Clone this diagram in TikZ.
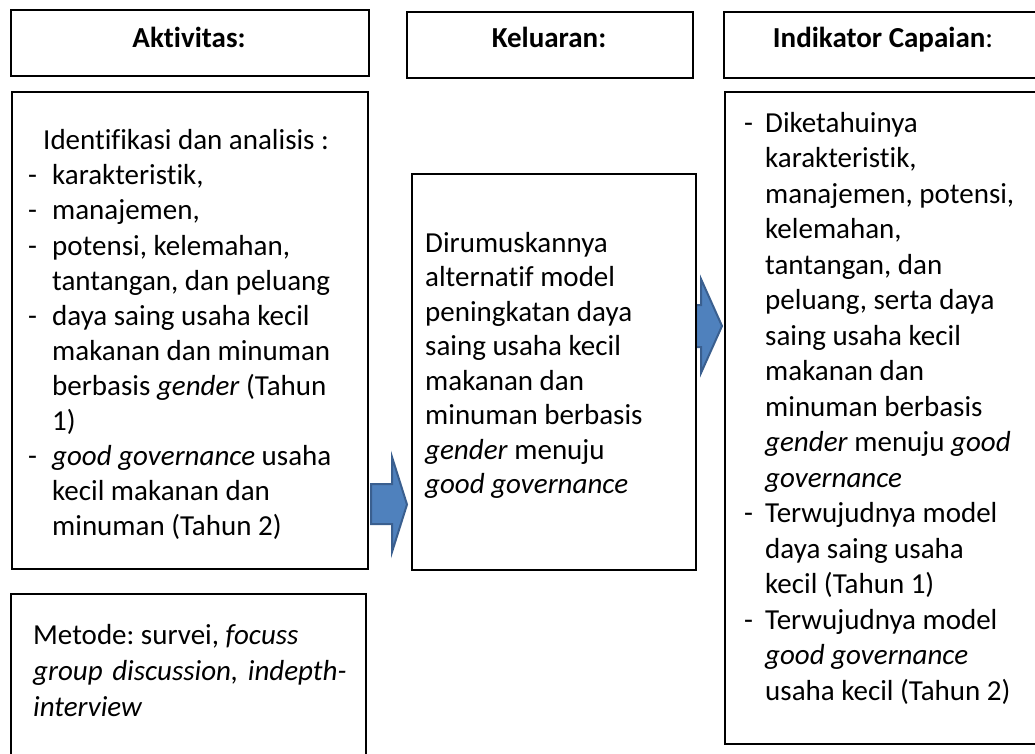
\documentclass[tikz,border=0pt]{standalone}
\usepackage{fontspec}
\setmainfont{Carlito}[Ligatures=NoCommon]
\frenchspacing
\definecolor{arrfill}{HTML}{4F81BD}
\definecolor{arrdraw}{HTML}{3A5F8F}
\newcommand{\dashA}[1]{\makebox[#1][l]{-}}
\newcommand{\contA}[1]{\hspace*{#1}}
\tikzset{
  box/.style={draw=black, line width=2pt, inner sep=0pt, anchor=north west},
  body/.style={inner sep=0pt, anchor=north west, align=left, font=\fontsize{29}{35.1}\selectfont\frenchspacing},
  head/.style={inner sep=0pt, anchor=base, font=\fontsize{29}{34}\selectfont\bfseries},
  blockarrow/.style={fill=arrfill, draw=arrdraw, line width=2pt, line join=miter}
}
\begin{document}
\begin{tikzpicture}[x=1pt,y=-1pt]
\useasboundingbox (0,0) rectangle (1035,754);
% block arrows
\draw[blockarrow] (371,484) -- (392,484) -- (392,457) -- (407,504.5) -- (392,552) -- (392,524) -- (371,524) -- cycle;
\draw[blockarrow] (696,305) -- (701,305) -- (701,279) -- (722,326) -- (701,373) -- (701,347) -- (696,347) -- cycle;
% header boxes
\node[box, minimum width=358pt, minimum height=66pt] (h1) at (10,9) {};
\node[box, minimum width=286pt, minimum height=66pt] (h2) at (406,11) {};
\node[box, minimum width=340pt, minimum height=66pt] (h3) at (723,11) {};
\node[head] (t1) at (189,48) {Aktivitas:};
\node[head] (t2) at (549,48) {Keluaran:};
\node[head] (t3) at (883,48) {Indikator Capaian\textmd{:}};
% content boxes
\node[box, minimum width=356pt, minimum height=477pt] (act) at (11,91) {};
\node[box, minimum width=355pt, minimum height=180pt] (met) at (10,593) {};
\node[box, minimum width=284pt, minimum height=396pt] (out) at (411,173) {};
\node[box, minimum width=340pt, minimum height=652pt] (ind) at (724,91) {};
% texts
\node[body] (actt) at (28,125) {\strut\contA{15pt}Identifikasi dan analisis :\\
\dashA{24pt}karakteristik,\\
\dashA{24pt}manajemen,\\
\dashA{24pt}potensi, kelemahan,\\
\contA{24pt}tantangan, dan peluang\\
\dashA{24pt}daya saing usaha kecil\\
\contA{24pt}makanan dan minuman\\
\contA{24pt}berbasis \textit{gender} (Tahun\\
\contA{24pt}1)\\
\dashA{24pt}\textit{good governance} usaha\\
\contA{24pt}kecil makanan dan\\
\contA{24pt}minuman (Tahun 2)};
\node[body, font=\fontsize{29}{36}\selectfont\frenchspacing] (mett) at (33,619) {\strut Metode: survei, \textit{focuss}\\
\textit{group\hspace{3pt} discussion,\hspace{3pt} indepth-}\\
\textit{interview}};
\node[body, font=\fontsize{29}{34.5}\selectfont\frenchspacing] (outt) at (425,228) {\strut Dirumuskannya\\
alternatif model\\
peningkatan daya\\
saing usaha kecil\\
makanan dan\\
minuman berbasis\\
\textit{gender} menuju\\
\textit{good governance}};
\node[body, font=\fontsize{29}{35.5}\selectfont\frenchspacing] (indt) at (744,107) {\strut\dashA{21pt}Diketahuinya\\
\contA{21pt}karakteristik,\\
\contA{21pt}manajemen, potensi,\\
\contA{21pt}kelemahan,\\
\contA{21pt}tantangan, dan\\
\contA{21pt}peluang, serta daya\\
\contA{21pt}saing usaha kecil\\
\contA{21pt}makanan dan\\
\contA{21pt}minuman berbasis\\
\contA{21pt}\textit{gender} menuju \textit{good}\\
\contA{21pt}\textit{governance}\\
\dashA{21pt}Terwujudnya model\\
\contA{21pt}daya saing usaha\\
\contA{21pt}kecil (Tahun 1)\\
\dashA{21pt}Terwujudnya model\\
\contA{21pt}\textit{good governance}\\
\contA{21pt}usaha kecil (Tahun 2)};
\end{tikzpicture}
\end{document}
